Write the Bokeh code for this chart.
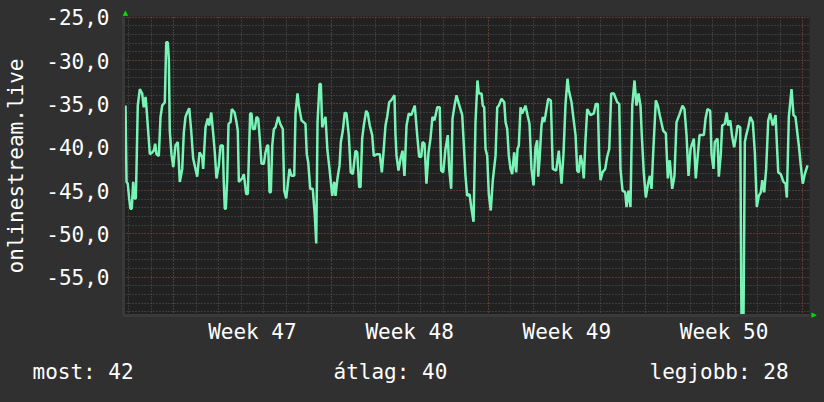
from bokeh.plotting import figure
from bokeh.models import (Range1d, FixedTicker, Grid, LinearAxis, CustomJSTickFormatter)
from bokeh.embed import file_html
from bokeh.resources import INLINE

# hours relative to the start of week 47
hours = [
 -51.6,-50.5,-49.2,-47.7,-46.3,-44.9,-43.4,-42.0,-40.6,-39.9,-38.5,-36.3,-33.8,-32.1,-30.2,-29.2,-27.8,-25.6,-23.1,-21.4,
 -19.9,-18.5,-16.0,-14.2,-12.4,-9.6,-8.1,-6.4,-5.3,-4.3,-2.5,-0.6,1.8,4.3,6.4,9.0,10.7,12.5,14.3,16.5,
 18.6,20.7,23.2,25.0,27.5,30.3,31.4,33.9,36.3,37.8,40.0,42.1,43.8,45.6,48.1,49.9,52.4,53.4,54.5,55.6,
 57.1,58.5,60.6,62.0,64.9,67.0,68.4,
 69.5,71.3,73.1,74.8,77.4,79.1,80.1,81.6,83.0,84.4,86.6,88.4,90.2,91.6,93.7,96.2,98.0,99.8,100.9,102.3,
 103.7,105.2,106.9,108.7,111.6,113.7,116.5,118.0,120.1,121.5,123.6,125.8,128.7,130.1,132.2,133.6,136.5,138.6,140.7,142.1,
 143.6,145.8,148.5,150.7,152.2,153.6,155.7,157.1,158.6,160.7,162.1,164.2,166.4,169.3,171.4,172.8,174.9,177.1,178.5,180.6,
 182.7,184.5,187.0,189.1,191.3,
 194.2,196.0,198.1,199.5,201.3,203.0,205.6,207.3,209.4,212.0,213.7,217.4,220.1,222.3,223.8,226.2,228.0,230.2,232.3,235.8,
 236.9,238.0,240.1,242.3,244.4,246.5,248.7,251.1,253.7,257.5,260.1,262.2,264.4,265.8,267.9,270.0,272.2,274.3,276.4,278.6,
 281.5,284.2,285.7,287.9,290.3,292.8,294.3,296.4,297.8,300.0,302.1,304.6,308.2,311.7,313.5,
 316.0,318.1,320.3,322.4,324.5,325.9,328.8,330.2,331.7,333.1,334.9,336.6,338.7,340.9,343.8,345.6,347.3,350.2,353.1,354.5,
 356.3,358.0,359.8,361.6,363.7,365.9,367.3,368.7,370.5,372.3,375.8,378.0,380.1,382.2,384.4,386.5,388.3,389.4,390.8,392.9,
 394.3,395.8,397.2,400.1,402.9,405.0,408.6,411.4,414.3,416.4,418.6,420.7,422.1,425.0,427.1,429.3,431.1,432.8,
 434.6,436.7,438.1,439.9,441.8,445.3,448.8,451.0,453.1,454.6,456.0,458.1,461.0,463.1,465.3,467.4,470.2,473.8,476.0,477.3,
 479.5,482.4,483.8,485.9,488.0,489.9,492.3,494.4,496.6,498.7,500.1,502.2,504.4,506.5,508.7,510.5,512.3,515.1,517.2,519.3,
 523.0,525.8,527.9,530.0,532.6,535.0,537.2,540.1,543.6,545.7,547.9,550.0,552.2,555.7,557.8,
 561.8,566.4,568.2,570.3,573.2,574.6,576.7,578.1,581.0,582.4,584.5,586.0,588.8,590.9,592.4,594.6,596.7,598.8,601.0,602.4,
 605.3,606.6,608.8,610.2,611.7,613.8,616.0,618.7,620.9,623.0,625.1,627.3,628.8,630.9,633.0,635.2,637.3,640.1,643.0,645.9,
 648.6,651.5,653.7,655.1,657.2,660.1,662.2,664.3,667.9,670.0,672.1,674.3,677.2,
]
values = [
 -35.2,-44.0,-44.2,-45.9,-47.1,-47.1,-44.0,-45.9,-45.9,-42.7,-35.2,-33.3,-33.8,-35.4,-34.2,-35.4,-37.5,-40.8,-40.6,-40.4,
 -39.6,-40.8,-41.0,-36.5,-35.2,-34.8,-27.9,-27.9,-29.8,-38.1,-40.8,-42.3,-39.8,-39.4,-44.0,-42.5,-38.3,-36.5,-36.0,-35.5,
 -38.1,-41.3,-42.5,-43.4,-40.6,-41.1,-42.5,-37.7,-36.7,-37.5,-36.0,-38.4,-40.6,-43.6,-42.1,-39.8,-39.8,-44.0,-47.1,-47.1,
 -43.6,-37.3,-37.1,-35.6,-36.0,-37.1,-38.1,
 -44.0,-43.8,-43.6,-43.1,-45.4,-45.4,-41.5,-36.1,-36.1,-37.9,-37.9,-36.5,-36.7,-38.6,-41.9,-41.9,-40.6,-39.8,-39.8,-45.2,
 -45.2,-39.8,-37.9,-37.7,-36.5,-37.3,-37.9,-45.0,-45.9,-44.6,-42.5,-43.3,-43.3,-36.0,-33.8,-35.2,-36.9,-37.1,-37.3,-40.8,
 -41.7,-44.8,-44.8,-47.9,-51.1,-37.1,-32.7,-32.7,-37.7,-36.9,-36.5,-40.4,-42.5,-45.6,-44.0,-45.6,-43.6,-42.1,-39.4,-38.1,
 -36.0,-36.1,-38.6,-42.9,-43.1,
 -40.4,-40.6,-44.6,-44.6,-39.0,-37.5,-35.8,-36.1,-37.5,-38.6,-41.0,-40.8,-40.8,-42.9,-41.0,-37.5,-36.5,-34.8,-34.6,-34.0,
 -38.6,-41.0,-42.7,-41.3,-40.4,-43.3,-37.5,-36.1,-36.3,-35.2,-38.6,-41.1,-41.1,-39.4,-39.6,-44.2,-40.6,-39.0,-36.5,-36.9,
 -35.4,-35.4,-42.7,-42.9,-40.2,-38.6,-42.5,-44.8,-36.7,-35.2,-34.0,-35.0,-36.3,-43.3,-45.6,
 -45.4,-47.1,-48.6,-37.1,-32.3,-33.8,-33.8,-35.2,-35.4,-40.2,-41.0,-45.4,-47.3,-43.8,-41.0,-35.4,-35.2,-34.4,-34.8,-37.1,
 -37.9,-41.0,-42.5,-43.1,-40.6,-42.9,-40.2,-39.8,-35.4,-36.1,-35.2,-36.3,-37.3,-42.5,-44.4,-40.0,-39.2,-43.4,-41.5,-37.5,
 -36.5,-37.1,-36.3,-34.4,-34.6,-42.5,-42.7,-40.4,-44.2,-40.8,-35.0,-32.1,-33.4,-34.8,-36.7,-38.6,-42.7,-42.9,
 -40.9,-42.0,-43.6,-39.2,-35.6,-36.3,-36.1,-35.0,-35.0,-41.3,-43.8,-42.9,-42.5,-41.1,-40.2,-33.8,-33.8,-34.8,-35.0,-42.5,
 -45.0,-45.2,-46.9,-45.0,-46.9,-35.2,-32.3,-35.2,-33.8,-35.2,-38.6,-42.9,-45.8,-44.4,-43.3,-44.8,-40.6,-34.6,-35.2,-36.3,
 -38.1,-38.4,-43.6,-41.5,-44.8,-43.3,-37.1,-36.3,-35.2,-35.6,-38.6,-43.3,-40.2,-39.0,-43.6,
 -38.6,-38.6,-36.7,-35.6,-35.8,-40.8,-42.5,-39.4,-39.0,-43.4,-40.8,-37.5,-37.3,-36.0,-37.5,-36.9,-38.8,-40.0,-38.6,-37.5,
 -37.7,-59.4,-59.4,-39.4,-38.6,-37.7,-36.5,-37.1,-40.6,-46.9,-45.6,-45.2,-43.8,-45.2,-42.5,-36.9,-36.1,-37.5,-36.3,-42.9,
 -43.1,-44.0,-44.2,-45.8,-36.5,-33.3,-36.3,-36.5,-39.8,-42.1,-44.2,-43.1,-42.1,
]

week_labels = {84: "Week 47", 252: "Week 48", 420: "Week 49", 588: "Week 50"}
week_starts = [0, 168, 336, 504, 672]
y_major = [-55, -50, -45, -40, -35, -30, -25]
y_title = "onlinestream.live"
stat_texts = ["most: 42", "átlag: 40", "legjobb: 28"]

BG = "#303030"
FRAME = "#212121"
FONT = "DejaVu Sans Mono"
FS = "21px"
ADV = 12.643          # monospace advance at 21px
W, H = 824, 402
X0, X1 = -53.75, 679.3
Y0, Y1 = -59.41, -24.92
FL, FR, FT, FB = 123, 809, 16, 315   # frame edges in pixels


def px_to_x(px):
    return round(X0 + (px - FL) * (X1 - X0) / (FR - FL), 3)


def py_to_y(py):
    return round(Y0 + (FB - py) * (Y1 - Y0) / (FB - FT), 3)


p = figure(width=W, height=H, output_backend="svg", toolbar_location=None,
           x_range=Range1d(X0, X1), y_range=Range1d(Y0, Y1),
           min_border_left=FL, min_border_right=W - FR, min_border_top=FT, min_border_bottom=H - FB)
p.background_fill_color = FRAME
p.border_fill_color = BG
p.outline_line_color = None
p.xgrid.visible = False
p.ygrid.visible = False

minor_col = "#575757"
major_col = "#7e3636"
p.add_layout(Grid(dimension=0, ticker=FixedTicker(ticks=list(range(-48, 690, 24))),
                  grid_line_color=minor_col, grid_line_dash="1 2", grid_line_width=1))
p.add_layout(Grid(dimension=1, ticker=FixedTicker(ticks=list(range(-59, -24))),
                  grid_line_color=minor_col, grid_line_dash="1 2", grid_line_width=1))
p.add_layout(Grid(dimension=0, ticker=FixedTicker(ticks=week_starts),
                  grid_line_color=major_col, grid_line_dash="1 2", grid_line_width=1))
p.add_layout(Grid(dimension=1, ticker=FixedTicker(ticks=y_major),
                  grid_line_color=major_col, grid_line_dash="1 2", grid_line_width=1))

p.line(hours, values, line_color="#78f4b6", line_width=2.5)


def style_axis(ax, size=FS, color="white", font=FONT):
    ax.major_tick_line_color = None
    ax.minor_tick_line_color = None
    ax.axis_line_color = None
    ax.major_tick_out = 0
    ax.major_tick_in = 0
    ax.major_label_text_color = color
    ax.major_label_text_font = font
    ax.major_label_text_font_size = size


xa = p.xaxis[0]
xa.ticker = FixedTicker(ticks=list(week_labels.keys()))
xa.major_label_overrides = week_labels
style_axis(xa)
xa.axis_line_color = "#3a3a3a"
xa.axis_line_width = 3
xa.major_label_standoff = 4

ya = p.yaxis[0]
ya.ticker = FixedTicker(ticks=y_major)
ya.formatter = CustomJSTickFormatter(code="return tick.toFixed(1).replace('.', ',');")
style_axis(ya)
ya.axis_line_color = "#3a3a3a"
ya.axis_line_width = 3
ya.major_label_standoff = 14

# vertical title as a second left axis with one label
yc = round((Y0 + Y1) / 2, 3)
ta = LinearAxis(ticker=FixedTicker(ticks=[yc]), major_label_overrides={yc: y_title},
                major_label_orientation="vertical", major_label_standoff=16)
style_axis(ta)
ta.major_label_text_line_height = 1.0
p.add_layout(ta, "left")

# summary row as a second bottom axis (monospace; trailing no-break spaces shift the first one)
NB = "\u00a0"
stat_labels = [stat_texts[0] + NB * 7, stat_texts[1], stat_texts[2]]
stat_pos = [px_to_x(s0 + len(s) * ADV / 2) for s, s0 in zip(stat_labels, [32, 333, 649])]
sa = LinearAxis(ticker=FixedTicker(ticks=stat_pos),
                major_label_overrides=dict(zip(stat_pos, stat_labels)),
                major_label_standoff=13)
style_axis(sa)
p.add_layout(sa, "below")

# green arrow heads at the axis ends
aa = LinearAxis(ticker=FixedTicker(ticks=[px_to_x(125)]),
                major_label_overrides={px_to_x(125): "▲"}, major_label_standoff=0)
style_axis(aa, size="7px", color="#00dd00", font="DejaVu Sans")
p.add_layout(aa, "above")
ra = LinearAxis(ticker=FixedTicker(ticks=[py_to_y(314.5)]),
                major_label_overrides={py_to_y(314.5): "▶"}, major_label_standoff=2)
style_axis(ra, size="7px", color="#00dd00", font="DejaVu Sans")
p.add_layout(ra, "right")

html = file_html(p, INLINE)
html = html.replace("<head>", "<head><style>body{background:#303030}</style>", 1)
open("out.html", "w").write(html)
